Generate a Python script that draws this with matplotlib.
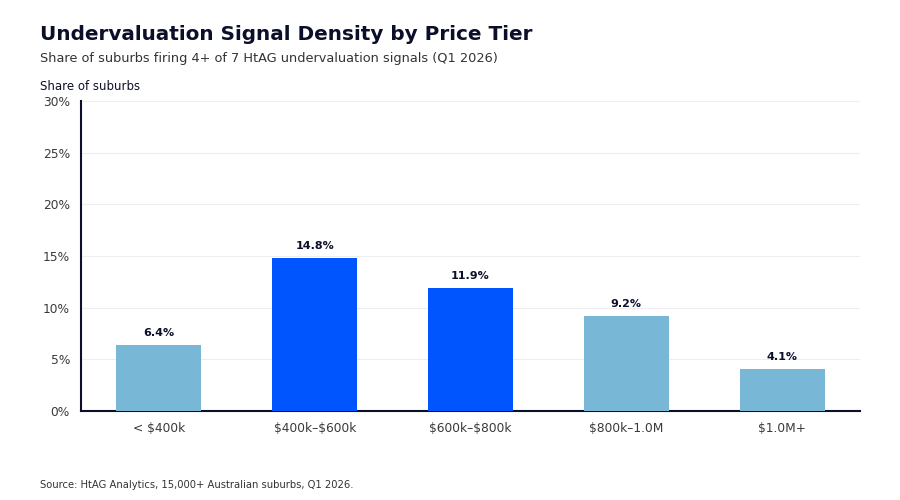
import matplotlib
matplotlib.use("Agg")
import matplotlib.pyplot as plt

plt.rcParams["text.parse_math"] = False

categories = ["< $400k", "$400k–$600k", "$600k–$800k", "$800k–1.0M", "$1.0M+"]
values = [6.4, 14.8, 11.9, 9.2, 4.1]
highlight = [False, True, True, False, False]
yticks = [0, 5, 10, 15, 20, 25, 30]

LIGHT = "#78B7D5"
BLUE = "#0055FF"
NAVY = "#0B0F2A"

fig = plt.figure(figsize=(9, 5), dpi=100)
ax = fig.add_axes([0.09, 0.178, 0.8656, 0.62])

colors = [BLUE if h else LIGHT for h in highlight]
x = list(range(len(categories)))
ax.bar(x, values, width=0.545, color=colors, zorder=3)
for xi, v in zip(x, values):
    ax.annotate(f"{v:.1f}%", (xi, v), xytext=(0, 5), textcoords="offset points",
                ha="center", va="bottom", fontsize=8, fontweight="bold", color=NAVY)

ax.set_xlim(-0.5, len(categories) - 0.5)
ax.set_ylim(0, 30)
ax.set_yticks(yticks)
ax.set_yticklabels([f"{t}%" for t in yticks])
ax.set_xticks(x)
ax.set_xticklabels(categories)
ax.tick_params(axis="both", length=0, labelsize=8.8, labelcolor="#3a3a3a")
ax.tick_params(axis="x", pad=8)
ax.tick_params(axis="y", pad=8)
ax.grid(axis="y", color="#EEEEEE", linewidth=0.8, zorder=0)
for s in ["top", "right"]:
    ax.spines[s].set_visible(False)
for s in ["left", "bottom"]:
    ax.spines[s].set_color(NAVY)
    ax.spines[s].set_linewidth(1.5)

fig.text(0.044, 0.93, "Undervaluation Signal Density by Price Tier", fontsize=14.4,
         fontweight="bold", color=NAVY, va="center")
fig.text(0.044, 0.883, "Share of suburbs firing 4+ of 7 HtAG undervaluation signals (Q1 2026)",
         fontsize=9.3, color="#333333", va="center")
fig.text(0.044, 0.828, "Share of suburbs", fontsize=8.5, color=NAVY, va="center")
fig.text(0.044, 0.03, "Source: HtAG Analytics, 15,000+ Australian suburbs, Q1 2026.",
         fontsize=7.2, color="#333333", va="center")

fig.savefig("out.png", dpi=100)
